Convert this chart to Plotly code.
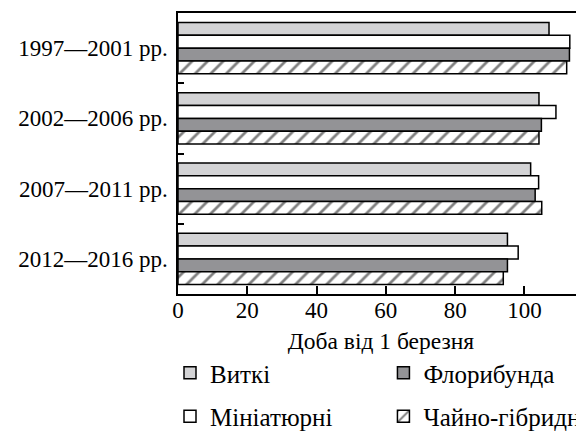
import plotly.graph_objects as go

periods = ["1997—2001 рр.", "2002—2006 рр.", "2007—2011 рр.", "2012—2016 рр."]
series_names = ["Виткі", "Мініатюрні", "Флорибунда", "Чайно-гібридні"]
vytki = [107.1, 104.2, 101.8, 95.1]
miniaturni = [113.1, 109.1, 104.1, 98.2]
floribunda = [113.0, 104.9, 103.1, 95.1]
chaino = [112.2, 104.2, 105.0, 93.9]
x_ticks = [0, 20, 40, 60, 80, 100]
x_title = "Доба від 1 березня"

FONT = '"Liberation Serif", "Times New Roman", serif'
values = [vytki, miniaturni, floribunda, chaino]
fills = ["#d3d3d5", "#ffffff", "#939396", "#ffffff"]
patterns = ["", "", "", "/"]
legends = ["legend", "legend", "legend2", "legend2"]

fig = go.Figure()
for name, vals, fill, pat, lg in zip(series_names, values, fills, patterns, legends):
    marker = dict(color=fill, line=dict(color="black", width=1.5))
    if pat:
        marker["pattern"] = dict(shape=pat, fgcolor="black", bgcolor="white",
                                 size=11, solidity=0.25, fillmode="overlay")
    fig.add_trace(go.Bar(
        y=periods, x=vals, name=name, orientation="h", marker=marker,
        legend=lg, legendgroup=name,
    ))

legend_common = dict(
    orientation="v", yanchor="middle", xanchor="left",
    font=dict(family=FONT, size=25, color="black"),
    bgcolor="rgba(0,0,0,0)", tracegroupgap=8, traceorder="grouped",
)

fig.update_layout(
    width=576, height=426,
    margin=dict(l=170, r=0, t=5, b=140, autoexpand=False),
    paper_bgcolor="white", plot_bgcolor="white",
    barmode="group", bargap=0.27, bargroupgap=0,
    font=dict(family=FONT, size=23, color="black"),
    legend=dict(x=-0.0197, y=-0.358, **legend_common),
    legend2=dict(x=0.506, y=-0.358, **legend_common),
    xaxis=dict(
        range=[0, 117.2], tickvals=x_ticks, ticks="inside", ticklen=8,
        tickcolor="black", tickwidth=1.5, ticklabelstandoff=-5,
        showline=True, linecolor="black", linewidth=1.5, mirror=True,
        showgrid=False, zeroline=False,
        tickfont=dict(family=FONT, size=23, color="black"),
        title=dict(text=x_title, font=dict(family=FONT, size=23.5, color="black"), standoff=10),
    ),
    yaxis=dict(
        type="category", autorange="reversed", tickson="boundaries",
        ticks="inside", ticklen=6, tickcolor="black", tickwidth=1.5,
        showline=True, linecolor="black", linewidth=1.5,
        showgrid=False, zeroline=False, ticklabelstandoff=4,
        tickfont=dict(family=FONT, size=23, color="black"),
    ),
)

fig.write_html("out.html")
